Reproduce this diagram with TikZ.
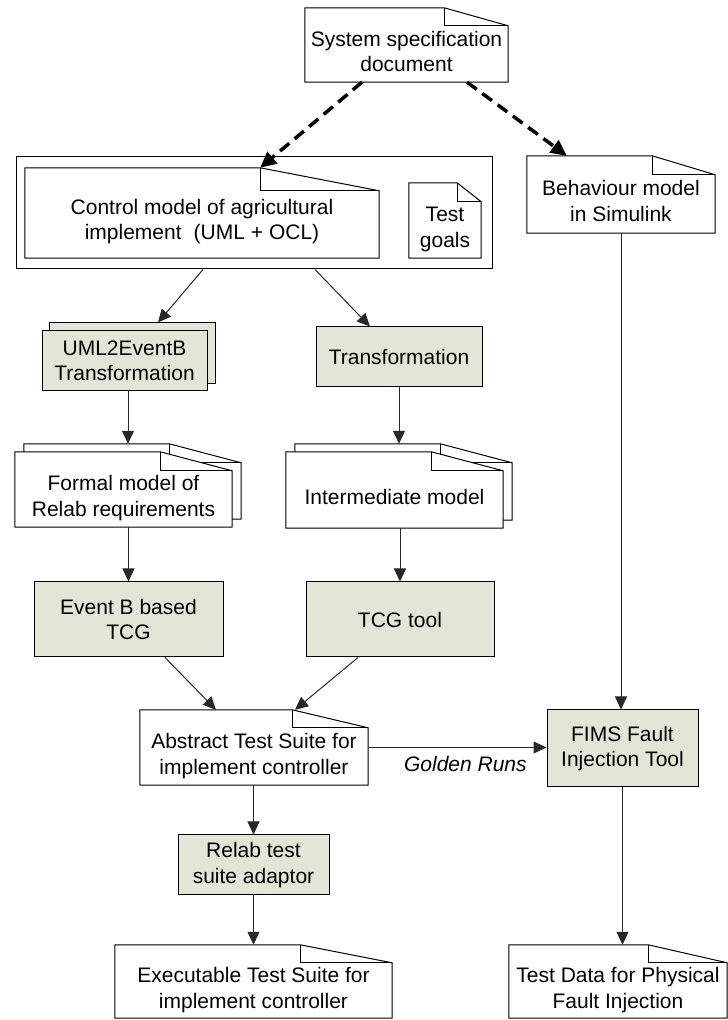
\documentclass[tikz,border=0pt]{standalone}
\usepackage{fontspec}
\setmainfont{Liberation Sans}
\usetikzlibrary{arrows.meta}
\definecolor{procfill}{RGB}{227,230,214}
\definecolor{conn}{RGB}{40,40,40}
\pgfdeclarelayer{bg}
\pgfsetlayers{bg,main}

% text of a document shape, lowered below its folded corner
\newcommand\dtext[1]{\raisebox{-9pt}[\height][\depth]{\begin{tabular}{@{}c@{}}#1\end{tabular}}}

% outline of a document with a folded top-right corner
% #1 node, #2 fold width, #3 fold depth, #4/#5 offset of the sheet
\newcommand\docshape[5]{%
  \draw[docline] ([shift={(#4,#5)}]#1.south west) -- ([shift={(#4,#5)}]#1.north west)
    -- ([shift={(#4-#2,#5)}]#1.north east) -- ([shift={(#4,#5-#3)}]#1.north east)
    -- ([shift={(#4,#5)}]#1.south east) -- cycle;
  \draw[docline,fill=none] ([shift={(#4-#2,#5)}]#1.north east) |- ([shift={(#4,#5-#3)}]#1.north east);}

\begin{document}
\begin{tikzpicture}[x=1pt,y=1pt,
  every node/.style={font=\fontsize{21}{25.5}\selectfont, inner sep=0pt},
  proc/.style={draw=black, fill=procfill, line width=1pt, align=center},
  procback/.style={draw=black, fill=procfill, line width=1pt},
  doc/.style={},
  frame/.style={draw=black, line width=1pt},
  docline/.style={draw=black, fill=white, line width=1pt, line join=miter},
  arr/.style={draw=conn, line width=1pt, -{Triangle[length=13pt,width=12pt]}},
  dasharr/.style={draw=black, line width=3.5pt, dash pattern=on 12pt off 7pt,
                  -{Triangle[length=16pt,width=15pt]}},
]
\useasboundingbox (0,0) rectangle (728,1020);

% ---- nodes ----
\node[doc, minimum width=203pt, minimum height=74pt] (sys) at (406.5,975)
  {\dtext{System specification\\document}};
\node[frame, minimum width=476pt, minimum height=112pt] (cont) at (254,807) {};
\node[doc, minimum width=354pt, minimum height=90pt] (ctrl) at (202,807)
  {\dtext{Control model of agricultural\\implement\hspace{0.3em} (UML + OCL)}};
\node[doc, minimum width=72pt, minimum height=75pt] (goals) at (445,799.5)
  {\dtext{Test\\goals}};
\node[doc, minimum width=188pt, minimum height=77pt] (beh) at (621,825.5)
  {\dtext{Behaviour model\\in Simulink}};
\node[proc, minimum width=165pt, minimum height=60pt] (uml) at (124.5,659)
  {UML2EventB\\Transformation};
\node[proc, minimum width=166pt, minimum height=60pt] (trans) at (399,663)
  {Transformation};
\node[doc, minimum width=217pt, minimum height=75pt] (formal) at (123.5,530.5)
  {\dtext{Formal model of\\Relab requirements}};
\node[doc, minimum width=217pt, minimum height=76pt] (inter) at (394.5,530)
  {\dtext{Intermediate model}};
\node[proc, minimum width=189pt, minimum height=75pt] (evb) at (128.5,400.5)
  {Event B based\\TCG};
\node[proc, minimum width=188pt, minimum height=75pt] (tcg) at (400,400.5)
  {TCG tool};
\node[doc, minimum width=228pt, minimum height=75pt] (abs) at (254,272.5)
  {\dtext{Abstract Test Suite for\\implement controller}};
\node[proc, minimum width=151pt, minimum height=77pt] (fims) at (622.5,271.5)
  {FIMS Fault\\Injection Tool};
\node[proc, minimum width=151pt, minimum height=60pt] (relab) at (253.5,155)
  {Relab test\\suite adaptor};
\node[doc, minimum width=277pt, minimum height=73pt] (exe) at (253.5,38.5)
  {\dtext{Executable Test Suite for\\implement controller}};
\node[doc, minimum width=218pt, minimum height=73pt] (tdata) at (618,38.5)
  {\dtext{Test Data for Physical\\Fault Injection}};

% ---- sheets behind the texts ----
\begin{pgfonlayer}{bg}
  \docshape{sys}{64}{18}{0}{0}
  \docshape{ctrl}{119}{23}{0}{0}
  \docshape{goals}{24}{19}{0}{0}
  \docshape{beh}{63}{19}{0}{0}
  \docshape{formal}{72}{19}{9}{8}
  \docshape{formal}{72}{19}{0}{0}
  \docshape{inter}{72}{19}{9}{8}
  \docshape{inter}{72}{19}{0}{0}
  \docshape{abs}{76}{18}{0}{0}
  \docshape{exe}{92}{18}{0}{0}
  \docshape{tdata}{79}{18}{0}{0}
  \draw[procback] ([shift={(8,8)}]uml.south west) rectangle ([shift={(8,8)}]uml.north east);
\end{pgfonlayer}

% ---- connectors ----
\draw[dasharr] ([xshift=-44.5pt]sys.south) -- ([xshift=-119pt]ctrl.north east);
\draw[dasharr] ([xshift=60.5pt]sys.south) -- ([xshift=40pt]beh.north west);
\draw[arr] ([xshift=-51pt]cont.south) -- ([xshift=33.5pt,yshift=8pt]uml.north);
\draw[arr] ([xshift=61pt]cont.south) -- ([xshift=-29pt]trans.north);
\draw[arr] ([xshift=3.5pt]uml.south) -- ([xshift=4.5pt,yshift=8pt]formal.north);
\draw[arr] (trans.south) -- ([xshift=4.5pt,yshift=8pt]inter.north);
\draw[arr] (evb.north |- formal.south) -- (evb.north);
\draw[arr] (tcg.north |- inter.south) -- (tcg.north);
\draw[arr] ([xshift=36.5pt]evb.south) -- ([xshift=-38pt]abs.north);
\draw[arr] ([xshift=-42pt]tcg.south) -- ([xshift=41pt]abs.north);
\draw[arr] (beh.south) -- (beh.south |- fims.north);
\draw[arr] (abs.east) -- (abs.east -| fims.west)
  node[pos=0.545, below=8pt, font=\fontsize{21}{25.5}\selectfont\itshape] (gr) {Golden Runs};
\draw[arr] (relab.north |- abs.south) -- (relab.north);
\draw[arr] (relab.south) -- (relab.south |- exe.north);
\draw[arr] (fims.south) -- (fims.south |- tdata.north);
\end{tikzpicture}
\end{document}
